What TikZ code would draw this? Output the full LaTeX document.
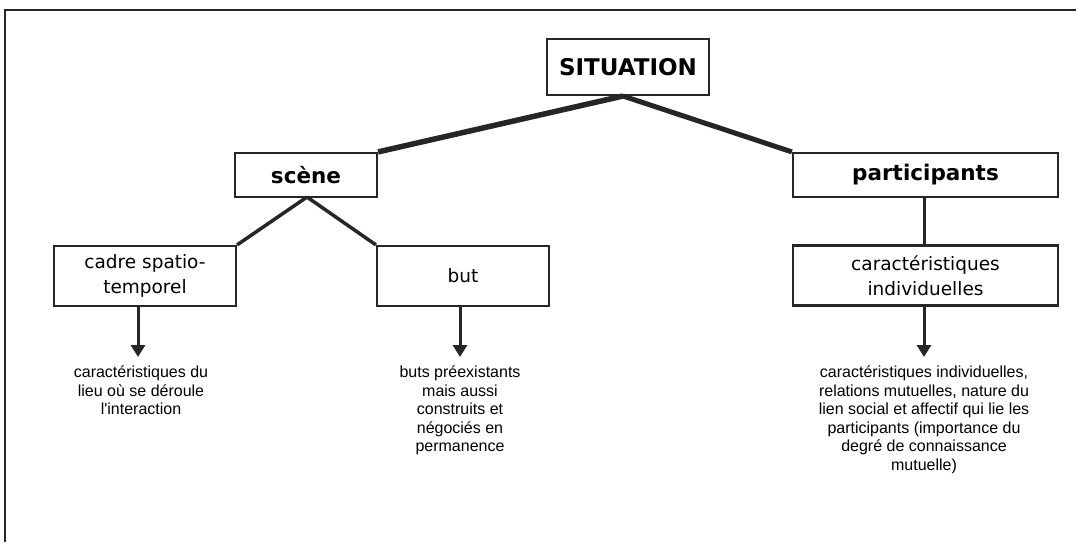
\documentclass[tikz,border=0pt]{standalone}
\usepackage{fontspec}
\setmainfont{DejaVu Sans}
\newfontfamily\arialf{Liberation Sans}
\usetikzlibrary{arrows.meta}
\begin{document}
\begin{tikzpicture}[x=1pt,y=-1pt,
  boxstyle/.style={draw=black!85,line width=2.2pt,inner sep=0pt,align=center,font=\fontsize{18.5}{25}\selectfont},
  bigbox/.style={boxstyle,font=\bfseries\fontsize{21.5}{26}\selectfont},
  thickline/.style={draw=black!85,line width=5.5pt},
  medline/.style={draw=black!85,line width=3.5pt},
  arrowline/.style={draw=black!85,line width=3pt,-{Triangle[length=12pt,width=14pt]}},
  desc/.style={align=center,anchor=north,inner sep=0pt,font=\arialf\fontsize{16}{18.5}\selectfont}]
\useasboundingbox (0,0) rectangle (1076,542);
\draw[black!85,line width=1.8pt] (5,542) -- (5,10) -- (1076,10);
% boxes
\node[bigbox,minimum width=162pt,minimum height=56pt,font=\bfseries\fontsize{23}{26}\selectfont] (sit) at (628,67) {SITUATION};
\node[bigbox,minimum width=142pt,minimum height=44pt] (scene) at (306,175) {scène};
\node[bigbox,minimum width=265pt,minimum height=44pt] (part) at (925.5,175) {participants};
\node[boxstyle,minimum width=182pt,minimum height=60pt] (cadre) at (145,276) {cadre spatio-\\temporel};
\node[boxstyle,minimum width=172pt,minimum height=60pt] (but) at (463,276) {but};
\node[boxstyle,minimum width=265pt,minimum height=60pt] (car) at (925.5,275.5) {caractéristiques\\individuelles};
% connectors
\coordinate (apex) at (623,96);
\draw[thickline] (apex) -- (scene.north east);
\draw[thickline,line width=5pt] (apex) -- (part.north west);
\coordinate (sapex) at (307,197);
\draw[medline] (sapex) -- (cadre.north east);
\draw[medline] (sapex) -- (but.north west);
\coordinate (pdown) at (924,197);
\draw[black!85,line width=3pt] (pdown) -- (pdown |- car.north);
% descriptions
\node[desc] (d1) at (141,366) {caractéristiques du\\lieu où se déroule\\l'interaction};
\node[desc] (d2) at (460,366) {buts préexistants\\mais aussi\\construits et\\négociés en\\permanence};
\node[desc] (d3) at (924,366) {caractéristiques individuelles,\\relations mutuelles, nature du\\lien social et affectif qui lie les\\participants (importance du\\degré de connaissance\\mutuelle)};
\coordinate (t1) at (138,357);
\coordinate (t2) at (460,357);
\coordinate (t3) at (924,357);
\draw[arrowline] (t1 |- cadre.south) -- (t1);
\draw[arrowline] (t2 |- but.south) -- (t2);
\draw[arrowline] (t3 |- car.south) -- (t3);
\end{tikzpicture}
\end{document}
